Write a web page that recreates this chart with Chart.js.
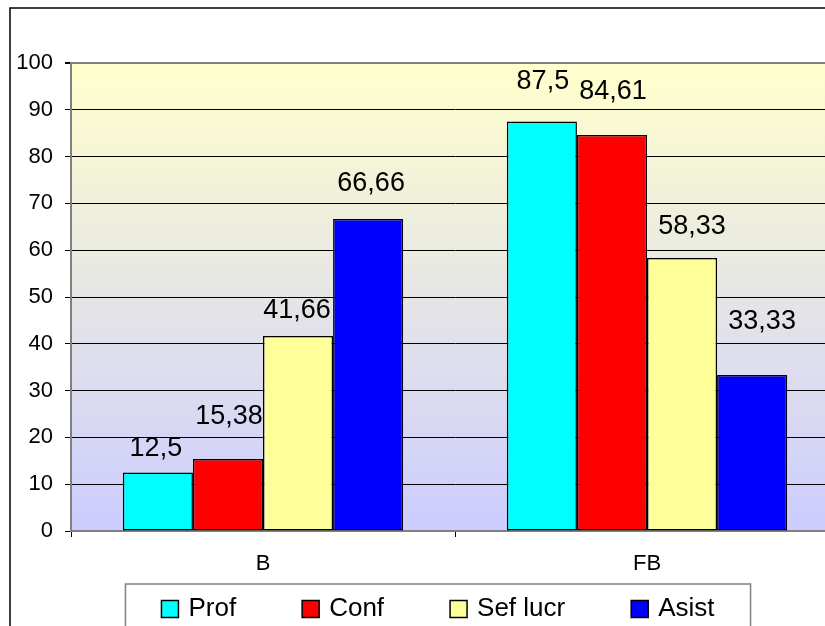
<!DOCTYPE html>
<html>
<head>
<meta charset="utf-8">
<script src="https://cdn.jsdelivr.net/npm/chart.js@4.4.0/dist/chart.umd.min.js"></script>
<style>
  body { margin: 0; overflow: hidden; background: #fff; }
  canvas { display: block; }
</style>
</head>
<body>
<canvas id="myChart" width="876" height="660"></canvas>
<script>
  /* CHART DATA */

  const categories = ['B', 'FB'];
  const seriesNames = ['Prof', 'Conf', 'Sef lucr', 'Asist'];
  const profValues = [12.5, 87.5];
  const confValues = [15.38, 84.61];
  const sefLucrValues = [41.66, 58.33];
  const asistValues = [66.66, 33.33];
  const yTicks = [0, 10, 20, 30, 40, 50, 60, 70, 80, 90, 100];

  const FONT = "'Liberation Sans', Arial, sans-serif";

  /* PLOT BACKGROUND + OUTER FRAME */

  const backgroundPlugin = {
    id: 'background',
    beforeDraw(chart) {
      const ctx = chart.ctx;
      const area = chart.chartArea;
      ctx.save();
      ctx.fillStyle = '#ffffff';
      ctx.fillRect(0, 0, chart.width, chart.height);
      const grad = ctx.createLinearGradient(0, area.top, 0, area.bottom);
      grad.addColorStop(0, '#ffffcc');
      grad.addColorStop(1, '#ccccff');
      ctx.fillStyle = grad;
      ctx.fillRect(area.left, area.top, area.right - area.left, area.bottom - area.top);
      ctx.strokeStyle = '#000000';
      ctx.lineWidth = 1.5;
      ctx.strokeRect(10, 8, chart.width - 20, chart.height - 18);
      ctx.restore();
    }
  };

  /* VALUE LABELS ABOVE BARS */

  const valueLabelPlugin = {
    id: 'valueLabels',
    afterDatasetsDraw(chart, args, opts) {
      const ctx = chart.ctx;
      ctx.save();
      ctx.font = '27px ' + FONT;
      ctx.fillStyle = '#000';
      ctx.textAlign = 'center';
      ctx.textBaseline = 'middle';
      chart.data.datasets.forEach((ds, i) => {
        const meta = chart.getDatasetMeta(i);
        meta.data.forEach((bar, j) => {
          const shift = opts.shifts[i][j];
          const txt = String(ds.data[j]).replace('.', ',');
          ctx.fillText(txt, bar.x + shift[0], bar.y - shift[1]);
        });
      });
      ctx.restore();
    }
  };

  /* LEGEND IN A BOX */

  const boxLegendPlugin = {
    id: 'boxLegend',
    afterDraw(chart, args, opts) {
      const ctx = chart.ctx;
      ctx.save();
      ctx.font = '26px ' + FONT;
      const sq = 17;
      const gap = 10;
      const items = chart.data.datasets.map(ds => ({
        label: ds.label,
        color: ds.backgroundColor,
        w: sq + gap + ctx.measureText(ds.label).width
      }));
      const total = items.reduce((s, it) => s + it.w, 0) + opts.spacing * (items.length - 1);
      const cx = (10 + chart.width - 10) / 2;
      let x = cx - total / 2;
      const y = opts.y;

      ctx.strokeStyle = '#808080';
      ctx.lineWidth = 1.5;
      ctx.strokeRect(x - 36, y - 25, total + 72, 80);

      ctx.textBaseline = 'middle';
      ctx.textAlign = 'left';
      items.forEach(it => {
        ctx.fillStyle = it.color;
        ctx.fillRect(x, y - sq / 2, sq, sq);
        ctx.strokeStyle = '#000';
        ctx.lineWidth = 1.5;
        ctx.strokeRect(x, y - sq / 2, sq, sq);
        ctx.fillStyle = '#000';
        ctx.fillText(it.label, x + sq + gap, y);
        x += it.w + opts.spacing;
      });
      ctx.restore();
    }
  };

  function makeDataset(label, values, color) {
    return {
      label: label,
      data: values,
      backgroundColor: color,
      borderColor: '#000000',
      borderWidth: 1.5,
      borderSkipped: false,
      categoryPercentage: 0.73,
      barPercentage: 1.0
    };
  }

  function initChart(target) {
    return new Chart(target, {
      type: 'bar',
      data: {
        labels: categories,
        datasets: [
          makeDataset(seriesNames[0], profValues, '#00ffff'),
          makeDataset(seriesNames[1], confValues, '#ff0000'),
          makeDataset(seriesNames[2], sefLucrValues, '#ffff99'),
          makeDataset(seriesNames[3], asistValues, '#0000ff')
        ]
      },
      options: {
        responsive: false,
        animation: false,
        layout: { padding: { top: 63, right: 37, bottom: 0, left: 0 } },
        plugins: {
          legend: { display: false },
          tooltip: { enabled: false },
          valueLabels: {
            shifts: [
              [[-2, 24], [1, 40]],
              [[1, 42], [1, 43]],
              [[-1, 25], [10, 31]],
              [[3, 35], [10, 53]]
            ]
          },
          boxLegend: { y: 609, spacing: 66 }
        },
        scales: {
          x: {
            afterFit(scale) { scale.height = 129; },
            grid: {
              drawOnChartArea: false,
              drawTicks: true,
              tickLength: 6,
              tickColor: '#000',
              offset: true
            },
            border: { color: '#808080', width: 2 },
            ticks: {
              color: '#000',
              padding: 14,
              font: { family: FONT, size: 22 }
            }
          },
          y: {
            min: 0,
            max: 100,
            afterFit(scale) { scale.width = 71; },
            afterBuildTicks(scale) { scale.ticks = yTicks.map(v => ({ value: v })); },
            grid: {
              color: c => (c.tick && c.tick.value === 100 ? '#808080' : '#000'),
              lineWidth: c => (c.tick && c.tick.value === 100 ? 2 : 1),
              tickLength: 6,
              tickColor: '#000'
            },
            border: { color: '#808080', width: 2 },
            ticks: {
              color: '#000',
              padding: 12,
              font: { family: FONT, size: 22 }
            }
          }
        }
      },
      plugins: [backgroundPlugin, valueLabelPlugin, boxLegendPlugin]
    });
  }

  document.addEventListener('DOMContentLoaded', () => {
    initChart(document.querySelector('#myChart'));
  });
</script>
</body>
</html>
